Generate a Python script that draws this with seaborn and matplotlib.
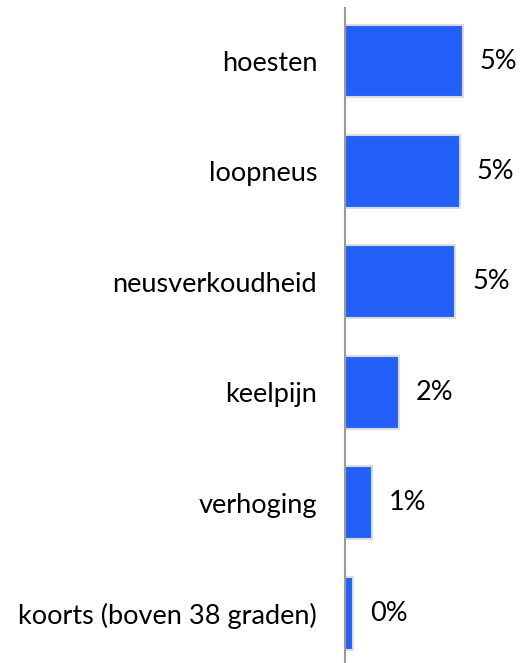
import seaborn as sns
import matplotlib.pyplot as plt
import pandas as pd

symptoms = ["hoesten", "loopneus", "neusverkoudheid", "keelpijn", "verhoging",
            "koorts (boven 38 graden)"]
share = [5.25, 5.12, 4.92, 2.42, 1.22, 0.37]
value_labels = ["5%", "5%", "5%", "2%", "1%", "0%"]

df = pd.DataFrame({"symptom": symptoms, "share": share})

sns.set_style("white")
plt.rcParams['font.family'] = ['Lato', 'DejaVu Sans']

fig = plt.figure(figsize=(5.2, 6.63), dpi=100)
ax = fig.add_axes([345 / 520, 0, 1 - 345 / 520, (663 - 8) / 663])

sns.barplot(data=df, x="share", y="symptom", orient="h", ax=ax, color="#2260F7",
            saturation=1, width=0.66, edgecolor="#dcdcdc", linewidth=1.5)

for i, (v, lab) in enumerate(zip(share, value_labels)):
    ax.annotate(lab, xy=(v, i), xytext=(12, 0), textcoords="offset points",
                va="center", ha="left", fontsize=19.5, color="black")

ax.set_xlim(0, 7.8)
ax.set_ylim(5.45, -0.48)
ax.set_xlabel("")
ax.set_ylabel("")
ax.set_xticks([])
ax.tick_params(axis="y", length=0, pad=20, labelsize=19.5, labelcolor="black")
sns.despine(ax=ax, top=True, right=True, bottom=True, left=False)
ax.spines["left"].set_color("#999999")
ax.spines["left"].set_linewidth(1.5)

fig.savefig("out.png", dpi=100)
